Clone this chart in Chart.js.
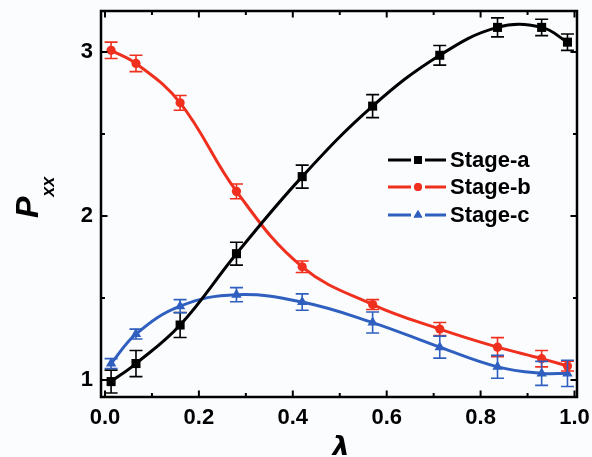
<!DOCTYPE html>
<html>
<head>
<meta charset="utf-8">
<script src="https://cdn.jsdelivr.net/npm/chart.js@4.4.0/dist/chart.umd.min.js"></script>
<style>
  body { margin: 0; background: #fbfcfe; }
  canvas { display: block; }
</style>
</head>
<body>
<canvas id="pxxChart" width="592" height="457"></canvas>
<script>
// values
var lambdaValues = [0.013, 0.066, 0.16, 0.28, 0.42, 0.57, 0.713, 0.836, 0.93, 0.985];
var stageA = [0.99, 1.10, 1.335, 1.77, 2.24, 2.67, 2.98, 3.15, 3.15, 3.06];
var stageAErr = [0.07, 0.08, 0.076, 0.07, 0.07, 0.07, 0.06, 0.058, 0.05, 0.05];
var stageB = [3.01, 2.93, 2.69, 2.15, 1.69, 1.46, 1.31, 1.20, 1.13, 1.085];
var stageBErr = [0.05, 0.05, 0.045, 0.045, 0.035, 0.03, 0.04, 0.058, 0.05, 0.03];
var stageC = [1.10, 1.28, 1.45, 1.52, 1.475, 1.35, 1.20, 1.08, 1.04, 1.04];
var stageCErr = [0.03, 0.03, 0.04, 0.043, 0.05, 0.064, 0.067, 0.07, 0.073, 0.08];

var seriesNames = ["Stage-a", "Stage-b", "Stage-c"];
var xTickLabels = [0, 0.2, 0.4, 0.6, 0.8, 1.0];
var yTickLabels = [1, 2, 3];

var FONT = "'Liberation Sans', Arial, sans-serif";
var colors = ["#000000", "#f0301f", "#2f5fbf"];
var markers = ["rect", "circle", "triangle"];
var markerRadius = [6.4, 4.6, 6];

function toPoints(ys) {
  return ys.map(function (y, i) {
    return { x: lambdaValues[i], y: y };
  });
}

var errors = [stageAErr, stageBErr, stageCErr];

var datasets = [stageA, stageB, stageC].map(function (ys, i) {
  return {
    label: seriesNames[i],
    data: toPoints(ys),
    borderColor: colors[i],
    backgroundColor: colors[i],
    borderWidth: 3,
    tension: 0.4,
    pointStyle: markers[i],
    pointRadius: markerRadius[i],
    pointBorderWidth: 0,
    clip: false,
  };
});

// background fill
var bgPlugin = {
  id: "bg",
  beforeDraw: function (chart) {
    var ctx = chart.ctx;
    ctx.save();
    ctx.fillStyle = "#fbfcfe";
    ctx.fillRect(0, 0, chart.width, chart.height);
    ctx.restore();
  },
};

// error bars with caps
var errorBarPlugin = {
  id: "errorBars",
  afterDatasetsDraw: function (chart) {
    var ctx = chart.ctx;
    var xs = chart.scales.x, ys = chart.scales.y;
    ctx.save();
    ctx.lineWidth = 1.6;
    chart.data.datasets.forEach(function (ds, di) {
      ctx.strokeStyle = colors[di];
      ds.data.forEach(function (p, i) {
        var e = errors[di][i];
        var px = xs.getPixelForValue(p.x);
        var top = ys.getPixelForValue(p.y + e);
        var bot = ys.getPixelForValue(p.y - e);
        ctx.beginPath();
        ctx.moveTo(px, top); ctx.lineTo(px, bot);
        ctx.moveTo(px - 6.5, top); ctx.lineTo(px + 6.5, top);
        ctx.moveTo(px - 6.5, bot); ctx.lineTo(px + 6.5, bot);
        ctx.stroke();
      });
    });
    ctx.restore();
  },
};

// frame, inward ticks, axis titles, legend
var framePlugin = {
  id: "frame",
  afterDraw: function (chart) {
    var ctx = chart.ctx;
    var a = chart.chartArea;
    var xs = chart.scales.x, ys = chart.scales.y;
    ctx.save();
    ctx.strokeStyle = "#000";
    ctx.lineWidth = 2.5;
    ctx.strokeRect(a.left, a.top, a.right - a.left, a.bottom - a.top);

    ctx.lineWidth = 2;
    ctx.beginPath();
    for (var k = 0; k <= 10; k++) {
      var v = k / 10;
      var len = k % 2 === 0 ? 6.5 : 4;
      var px = xs.getPixelForValue(v);
      ctx.moveTo(px, a.bottom); ctx.lineTo(px, a.bottom - len);
      ctx.moveTo(px, a.top); ctx.lineTo(px, a.top + len);
    }
    [1, 1.5, 2, 2.5, 3].forEach(function (v) {
      var len = v % 1 === 0 ? 6.5 : 4;
      var py = ys.getPixelForValue(v);
      ctx.moveTo(a.left, py); ctx.lineTo(a.left + len, py);
      ctx.moveTo(a.right, py); ctx.lineTo(a.right - len, py);
    });
    ctx.stroke();

    // y title P_xx
    ctx.fillStyle = "#000";
    ctx.save();
    ctx.translate(38, 218);
    ctx.rotate(-Math.PI / 2);
    ctx.textBaseline = "alphabetic";
    ctx.textAlign = "left";
    ctx.font = "italic bold 32px " + FONT;
    ctx.fillText("P", 0, 0);
    var pw = ctx.measureText("P").width;
    ctx.font = "italic bold 18px " + FONT;
    ctx.fillText("xx", pw, 16);
    ctx.restore();

    // x title lambda
    ctx.font = "italic bold 27px 'DejaVu Sans', " + FONT;
    ctx.textAlign = "center";
    ctx.textBaseline = "alphabetic";
    ctx.fillText("\u03bb", (a.left + a.right) / 2 + 2, 455);

    // legend
    var rowsY = [160, 187, 215];
    ctx.font = "bold 22px " + FONT;
    ctx.textAlign = "left";
    ctx.textBaseline = "middle";
    seriesNames.forEach(function (name, i) {
      var y = rowsY[i];
      ctx.strokeStyle = colors[i];
      ctx.fillStyle = colors[i];
      ctx.lineWidth = 3;
      ctx.beginPath();
      ctx.moveTo(388, y); ctx.lineTo(411, y);
      ctx.moveTo(425, y); ctx.lineTo(446, y);
      ctx.stroke();
      Chart.helpers.drawPoint(ctx, {
        pointStyle: markers[i],
        radius: markerRadius[i] * 0.85,
        rotation: 0,
        borderWidth: 0,
      }, 418, y);
      ctx.fill();
      ctx.fillStyle = "#000";
      ctx.fillText(name, 450, y + 1);
    });
    ctx.restore();
  },
};

var config = {
  type: "line",
  data: { datasets: datasets },
  options: {
    responsive: false,
    animation: false,
    layout: { padding: { left: 0, right: 15, top: 11, bottom: 0 } },
    plugins: { legend: { display: false }, tooltip: { enabled: false } },
    scales: {
      x: {
        type: "linear",
        min: -0.0085,
        max: 1.0053,
        grid: { display: false, drawTicks: false },
        border: { display: false },
        afterBuildTicks: function (scale) {
          scale.ticks = xTickLabels.map(function (v) { return { value: v }; });
        },
        afterFit: function (scale) {
          scale.height = 60;
          scale.paddingLeft = 0;
          scale.paddingRight = 0;
        },
        ticks: {
          padding: 8,
          color: "#000",
          font: { family: FONT, size: 22, weight: "bold" },
          callback: function (v) { return Number(v).toFixed(1); },
        },
      },
      y: {
        type: "linear",
        min: 0.896,
        max: 3.25,
        grid: { display: false, drawTicks: false },
        border: { display: false },
        afterBuildTicks: function (scale) {
          scale.ticks = yTickLabels.map(function (v) { return { value: v }; });
        },
        afterFit: function (scale) {
          scale.width = 101;
          scale.paddingTop = 0;
          scale.paddingBottom = 0;
        },
        ticks: {
          padding: 8,
          color: "#000",
          font: { family: FONT, size: 22, weight: "bold" },
          callback: function (v) { return String(v); },
        },
      },
    },
  },
  plugins: [bgPlugin, errorBarPlugin, framePlugin],
};

var pxxChart = new Chart(document.getElementById("pxxChart"), config);
</script>
</body>
</html>
